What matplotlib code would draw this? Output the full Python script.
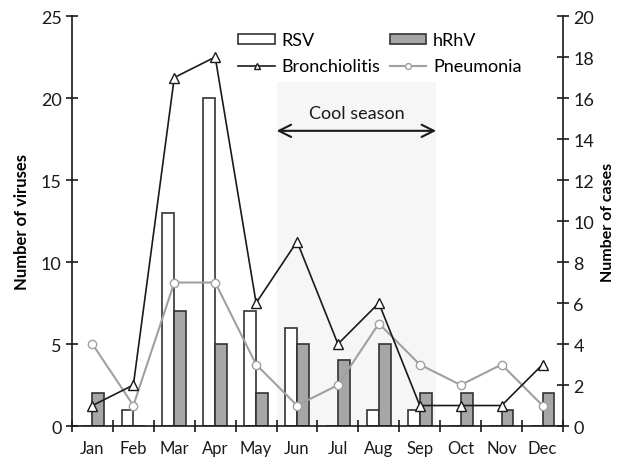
import matplotlib
matplotlib.use("Agg")
import matplotlib.pyplot as plt
import numpy as np
from matplotlib.ticker import FixedLocator

plt.rcParams['font.family'] = ['Lato', 'DejaVu Sans']

months = ["Jan", "Feb", "Mar", "Apr", "May", "Jun", "Jul", "Aug", "Sep", "Oct", "Nov", "Dec"]
rsv = [0, 1, 13, 20, 7, 6, 0, 1, 1, 0, 0, 0]
hrhv = [2, 0, 7, 5, 2, 5, 4, 5, 2, 2, 1, 2]
bronchiolitis = [1, 2, 17, 18, 6, 9, 4, 6, 1, 1, 1, 3]
pneumonia = [4, 1, 7, 7, 3, 1, 2, 5, 3, 2, 3, 1]

fig = plt.figure(figsize=(6.18, 4.64), dpi=100)
ax = fig.add_axes([0.1165, 0.0797, 0.7945, 0.8836])
ax2 = ax.twinx()

x = np.arange(len(months))
w = 0.29
edge = '#333333'

# shaded cool season
ax.axvspan(4.5, 8.4, ymin=0, ymax=21 / 25, color='#f6f6f6', zorder=0, lw=0)

b1 = ax.bar(x - w / 2, rsv, w, color='white', edgecolor=edge, linewidth=1.2, label='RSV', zorder=2)
b2 = ax.bar(x + w / 2, hrhv, w, color='#a6a6a6', edgecolor=edge, linewidth=1.2, label='hRhV', zorder=2)

l1, = ax2.plot(x, bronchiolitis, color='#1a1a1a', lw=1.2, marker='^', markersize=7,
               markerfacecolor='white', markeredgecolor='#1a1a1a', label='Bronchiolitis', zorder=4)
l2, = ax2.plot(x, pneumonia, color='#a0a0a0', lw=1.5, marker='o', markersize=6,
               markerfacecolor='white', markeredgecolor='#a0a0a0', label='Pneumonia', zorder=3)

ax.set_xlim(-0.5, 11.5)
ax.set_ylim(0, 25)
ax2.set_ylim(0, 20)

ax.set_yticks(range(0, 26, 5))
ax2.set_yticks(range(0, 21, 2))
ax.set_xticks(x)
ax.set_xticklabels(months)
ax.xaxis.set_minor_locator(FixedLocator(np.arange(-0.5, 12, 1)))

ax.tick_params(axis='x', which='major', length=0, labelsize=12, pad=10, colors='#1a1a1a')
ax.tick_params(axis='x', which='minor', direction='inout', length=9, width=1.2, color='#1a1a1a')
ax.tick_params(axis='y', direction='inout', length=9, width=1.2, labelsize=13, color='#1a1a1a', labelcolor='#1a1a1a', pad=3)
ax2.tick_params(axis='y', direction='inout', length=9, width=1.2, labelsize=13, color='#1a1a1a', labelcolor='#1a1a1a', pad=3)

for a in (ax, ax2):
    a.spines['top'].set_visible(False)
    for s in ('left', 'right', 'bottom'):
        a.spines[s].set_linewidth(1.2)
        a.spines[s].set_color('#1a1a1a')
ax.spines['right'].set_visible(False)
ax2.spines['left'].set_visible(False)
ax2.spines['bottom'].set_visible(False)

ax.set_ylabel('Number of viruses', fontsize=12, fontweight='bold', labelpad=8)
ax2.set_ylabel('Number of cases', fontsize=11.5, fontweight='bold', labelpad=5)

ax.set_zorder(ax2.get_zorder() - 1)
ax.patch.set_visible(True)
ax2.patch.set_visible(False)

# arrow and text
ax.annotate('', xy=(4.5, 18), xytext=(8.4, 18),
            arrowprops=dict(arrowstyle='<->', color='#1a1a1a', lw=1.5, mutation_scale=22, shrinkA=0, shrinkB=0))
ax.text(6.45, 18.6, 'Cool season', ha='center', va='bottom', fontsize=13, color='#1a1a1a')

leg = ax2.legend([b1, l1, b2, l2], ['RSV', 'Bronchiolitis', 'hRhV', 'Pneumonia'],
                 ncol=2, loc='upper left', bbox_to_anchor=(0.306, 1.0), frameon=False,
                 fontsize=13, handlelength=2.0, handleheight=0.45, columnspacing=0.5,
                 labelspacing=0.55, handletextpad=0.4, markerscale=0.7)

fig.savefig('out.png', dpi=100)
